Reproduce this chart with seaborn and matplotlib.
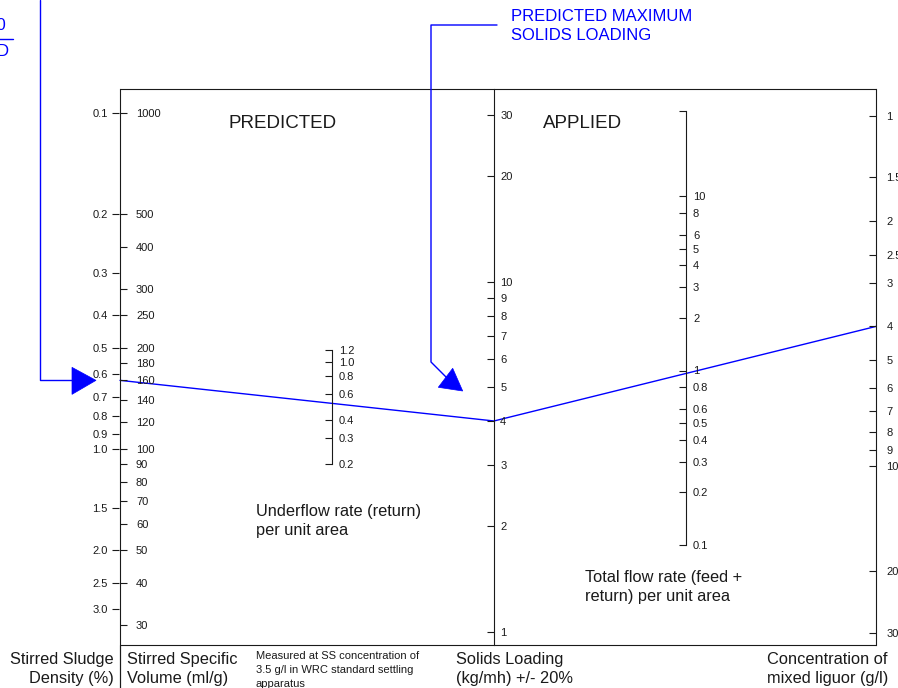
import matplotlib
matplotlib.use("Agg")
import numpy as np
import matplotlib.pyplot as plt
import seaborn as sns
from matplotlib.ticker import FixedLocator, FixedFormatter, NullLocator, NullFormatter
from matplotlib.patches import Polygon

sns.set_theme(style="white")
plt.rcParams["font.family"] = ["Liberation Sans", "DejaVu Sans"]

# ---- scale values -------------------------------------------------------
density_ticks = [0.1, 0.2, 0.3, 0.4, 0.5, 0.6, 0.7, 0.8, 0.9, 1.0, 1.5, 2.0, 2.5, 3.0]
density_labels = ["0.1", "0.2", "0.3", "0.4", "0.5", "0.6", "0.7", "0.8", "0.9",
                  "1.0", "1.5", "2.0", "2.5", "3.0"]
ssv_ticks = [1000, 500, 400, 300, 250, 200, 180, 160, 140, 120, 100, 90, 80, 70, 60, 50, 40, 30]
ssv_labels = [str(v) for v in ssv_ticks]
underflow_ticks = [1.2, 1.0, 0.8, 0.6, 0.4, 0.3, 0.2]
underflow_labels = ["1.2", "1.0", "0.8", "0.6", "0.4", "0.3", "0.2"]
loading_ticks = [30, 20, 10, 9, 8, 7, 6, 5, 4, 3, 2, 1]
loading_labels = [str(v) for v in loading_ticks]
flow_ticks = [10, 8, 6, 5, 4, 3, 2, 1, 0.8, 0.6, 0.5, 0.4, 0.3, 0.2, 0.1]
flow_labels = ["10", "8", "6", "5", "4", "3", "2", "1", "0.8", "0.6", "0.5",
               "0.4", "0.3", "0.2", "0.1"]
conc_ticks = [1, 1.5, 2, 2.5, 3, 4, 5, 6, 7, 8, 9, 10, 20, 30]
conc_labels = ["1", "1.5", "2", "2.5", "3", "4", "5", "6", "7", "8", "9", "10", "20", "30"]

# worked example: SSV -> solids loading -> mixed liquor concentration
example_ssv = 160
example_loading = 4
example_conc = 4

INK = "#1a1a1a"
BLUE = "#0000ff"
W, H = 898, 688

fig = plt.figure(figsize=(W / 100, H / 100), dpi=100)
fig.patch.set_facecolor("white")

# full-figure layer in pixel units for frame, captions and callouts
base = fig.add_axes([0, 0, 1, 1])
base.set_xlim(0, W)
base.set_ylim(H, 0)
base.axis("off")
base.set_autoscale_on(False)


def y_of(value, ref_value, ref_y, decade_px, down=False):
    sign = 1 if down else -1
    return ref_y + sign * decade_px * np.log10(value / ref_value)


def nomo_axis(x, y_top, y_bot, ref_value, ref_y, decade_px, ticks, labels,
              direction="in", length=5, pad=4.5, down=False):
    ax = fig.add_axes([(x - 1) / W, 1 - y_bot / H, 1 / W, (y_bot - y_top) / H])
    ax.set_yscale("log")
    sign = 1 if down else -1

    def value_at(y):
        return ref_value * 10 ** (sign * (y - ref_y) / decade_px)

    ax.set_ylim(value_at(y_bot), value_at(y_top))
    ax.patch.set_visible(False)
    for name, sp in ax.spines.items():
        sp.set_visible(name == "right")
    ax.spines["right"].set_color(INK)
    ax.spines["right"].set_linewidth(0.8)
    ax.set_xticks([])
    ax.yaxis.tick_right()
    ax.yaxis.set_major_locator(FixedLocator(ticks))
    ax.yaxis.set_major_formatter(FixedFormatter(labels))
    ax.yaxis.set_minor_locator(NullLocator())
    ax.tick_params(axis="y", which="major", direction=direction, length=length,
                   width=0.8, pad=pad, labelsize=8, colors=INK,
                   right=True, left=False)
    return ax


# stirred specific volume (left frame edge) with density on its left side
ssv_ax = nomo_axis(120, 89, 688, 100, 449, 336.3, ssv_ticks, ssv_labels,
                   direction="out", length=5, pad=6.5)
to_density = (lambda v: 100.0 / np.asarray(v, dtype=float),
              lambda d: 100.0 / np.asarray(d, dtype=float))
dens = ssv_ax.secondary_yaxis("left", functions=to_density)
dens.yaxis.set_major_locator(FixedLocator(density_ticks))
dens.yaxis.set_major_formatter(FixedFormatter(density_labels))
dens.yaxis.set_minor_locator(NullLocator())
dens.spines["left"].set_visible(False)
dens.tick_params(axis="y", which="major", direction="out", length=5, width=0.8,
                 pad=3, labelsize=8, colors=INK)

# underflow rate per unit area
uf = dict(ref_value=1.0, ref_y=362, decade_px=146)
uf_ax = nomo_axis(332, y_of(1.2, **uf), y_of(0.2, **uf), uf["ref_value"], uf["ref_y"],
                  uf["decade_px"], underflow_ticks, underflow_labels,
                  direction="in", length=5, pad=5)

# solids loading (centre of the frame)
sl_ax = nomo_axis(494, 89, 645, 10, 281.7, 350, loading_ticks, loading_labels,
                  direction="in", length=5, pad=4.5)

# total flow rate per unit area
tf = dict(ref_value=1.0, ref_y=370.5, decade_px=174.5)
tf_ax = nomo_axis(686, 111, y_of(0.1, **tf), tf["ref_value"], tf["ref_y"], tf["decade_px"],
                  flow_ticks, flow_labels, direction="in", length=5, pad=5)
tf_top = tf_ax.get_ylim()[1]
tf_ax.yaxis.set_minor_locator(FixedLocator([tf_top * 0.999]))
tf_ax.yaxis.set_minor_formatter(NullFormatter())
tf_ax.tick_params(axis="y", which="minor", direction="in", length=5, width=0.8,
                  colors=INK, right=True, left=False)

# concentration of mixed liquor (right frame edge, increasing downward)
mc_ax = nomo_axis(876, 89, 645, 1, 115.7, 350, conc_ticks, conc_labels,
                  direction="in", length=5, pad=7.5, down=True)

# frame top and bottom rules
base.plot([120, 876], [89, 89], color=INK, lw=0.8)
base.plot([120, 876], [645, 645], color=INK, lw=0.8)

# worked example line, located through each scale's transform
to_base = base.transData.inverted()
pts = []
for ax, v in [(ssv_ax, example_ssv), (sl_ax, example_loading), (mc_ax, example_conc)]:
    disp = ax.get_yaxis_transform().transform((1.0, v))
    pts.append(to_base.transform(disp))
pts = np.array(pts)
sns.lineplot(x=pts[:, 0], y=pts[:, 1], sort=False, estimator=None, color=BLUE,
             lw=1.0, ax=base)
base.set_xlim(0, W)
base.set_ylim(H, 0)

# callout: left arrow onto the density / SSV scale
ya = pts[0, 1]
base.plot([40, 40, 72], [0, ya, ya], color=BLUE, lw=1.0)
base.add_patch(Polygon([[72, ya - 13], [72, ya + 14], [96, ya]], closed=True,
                       facecolor=BLUE, edgecolor=BLUE, lw=0.5))
base.text(6.5, 26, "100", ha="right", va="center", fontsize=12, color=BLUE)
base.plot([-40, 13], [39, 39], color=BLUE, lw=1.0, clip_on=False)
base.text(9, 52, "SSD", ha="right", va="center", fontsize=12, color=BLUE)

# callout: predicted maximum solids loading
base.plot([497, 431, 431, 447], [25, 25, 362, 378], color=BLUE, lw=1.0)
base.add_patch(Polygon([[438.3, 387.3], [452.7, 368.3], [462.7, 391.0]], closed=True,
                       facecolor=BLUE, edgecolor=BLUE, lw=0.5))
base.text(511, 26, "PREDICTED MAXIMUM\nSOLIDS LOADING", ha="left", va="center",
          fontsize=12, color=BLUE, linespacing=1.35)

# panel titles and scale captions
base.text(283, 124, "PREDICTED", ha="center", va="center", fontsize=13.5, color=INK)
base.text(583, 124, "APPLIED", ha="center", va="center", fontsize=13.5, color=INK)
base.text(256, 521, "Underflow rate (return)\nper unit area", ha="left",
          va="center", fontsize=11.8, color=INK, linespacing=1.35)
base.text(585, 587, "Total flow rate (feed +\nreturn) per unit area", ha="left",
          va="center", fontsize=11.8, color=INK, linespacing=1.35)

# bottom axis titles
big = dict(fontsize=11.8, color=INK, linespacing=1.4, va="center")
base.plot([120, 120], [645, 688], color=INK, lw=0.8)
base.text(114, 669, "Stirred Sludge\nDensity (%)", ha="right",
          multialignment="right", **big)
base.text(127, 669, "Stirred Specific\nVolume (ml/g)", ha="left", **big)
base.text(256, 670, "Measured at SS concentration of\n3.5 g/l in WRC standard settling\napparatus",
          ha="left", va="center", fontsize=8, color=INK, linespacing=1.45)
base.text(456, 669, "Solids Loading\n(kg/mh) +/- 20%", ha="left", **big)
base.text(767, 669, "Concentration of\nmixed liguor (g/l)", ha="left", **big)

fig.savefig("out.png", dpi=100, facecolor="white")
